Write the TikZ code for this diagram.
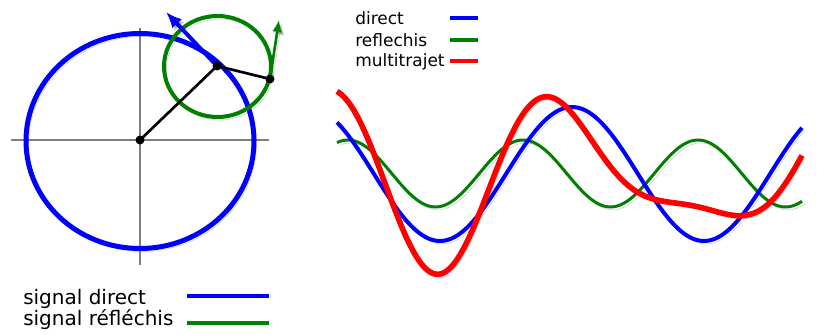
\documentclass[tikz,border=0pt]{standalone}
\usepackage{fontspec}
\setmainfont{DejaVu Sans}
\usetikzlibrary{arrows.meta}
\colorlet{refl}{green!50!black}

\begin{document}
\begin{tikzpicture}[x=0.75pt,y=-0.75pt,
  shadowed/.style={preaction={draw=black,opacity=0.2,transform canvas={shift={(1.8pt,-2.2pt)}}}},
  axis/.style={draw=gray,line width=1.1pt},
  vec/.style={line width=2pt},
  small/.style={font=\fontsize{12.75}{15}\selectfont,anchor=base west,inner sep=0pt},
  big/.style={font=\fontsize{15}{18}\selectfont,anchor=base west,inner sep=0pt}]
  \useasboundingbox (0,0) rectangle (834,335);
  % phasors
  \coordinate (o) at (140,140); \coordinate (p) at (217,66);
  \coordinate (q) at (270,79); \coordinate (ptip) at (166,12);
  \coordinate (qtip) at (279,20);
  \draw[axis] (11,140) -- (269,140);
  \draw[axis] (140,28) -- (140,265);
  \draw[blue,line width=3.75pt,shadowed] (140,141) ellipse [x radius=114, y radius=107.5];
  \draw[refl,line width=3pt,shadowed] (217.5,66.5) ellipse [x radius=53.5, y radius=50.5];
  \draw[blue,line width=3pt,-{Latex[length=12pt,width=10pt]},shadowed] (p) -- (ptip);
  \draw[refl,line width=2pt,-{Latex[length=9pt,width=7.5pt]},shadowed] (q) -- (qtip);
  \draw[vec] (o) -- (p) -- (q);
  \foreach \c in {o,p,q}{\fill (\c) circle (4.5);}
  % signals (periods 175 and 264 px)
  \draw[refl,line width=2.25pt,shadowed] plot[domain=337:802,samples=160,smooth]
    (\x,{173.5-33.5*cos((\x-523)*2.05714)});
  \draw[blue,line width=3pt,shadowed] plot[domain=337:802,samples=160,smooth]
    (\x,{174-67*cos((\x-572)*1.36364)});
  \draw[red,line width=4.2pt,shadowed] plot[domain=337:802,samples=200,smooth]
    (\x,{174-67*cos((\x-572)*1.36364)-33.5*cos((\x-523)*2.05714)});
  % legends
  \node[small] (ldirect) at (355,25) {direct};
  \node[small] (lrefl) at (355,46) {reflechis};
  \node[small] (lmulti) at (355,67) {multitrajet};
  \draw[blue,line width=3pt] (450,18) -- ++(28,0);
  \draw[refl,line width=3pt] (450,40) -- ++(28,0);
  \draw[red,line width=3.5pt] (450,61) -- ++(28,0);
  \node[big] (sdirect) at (23,304) {signal direct};
  \node[big] (srefl) at (23,325) {signal réfléchis};
  \draw[blue,line width=3pt] (187,296) -- (269,296);
  \draw[refl,line width=3pt] (187,323) -- (269,323);
\end{tikzpicture}
\end{document}
